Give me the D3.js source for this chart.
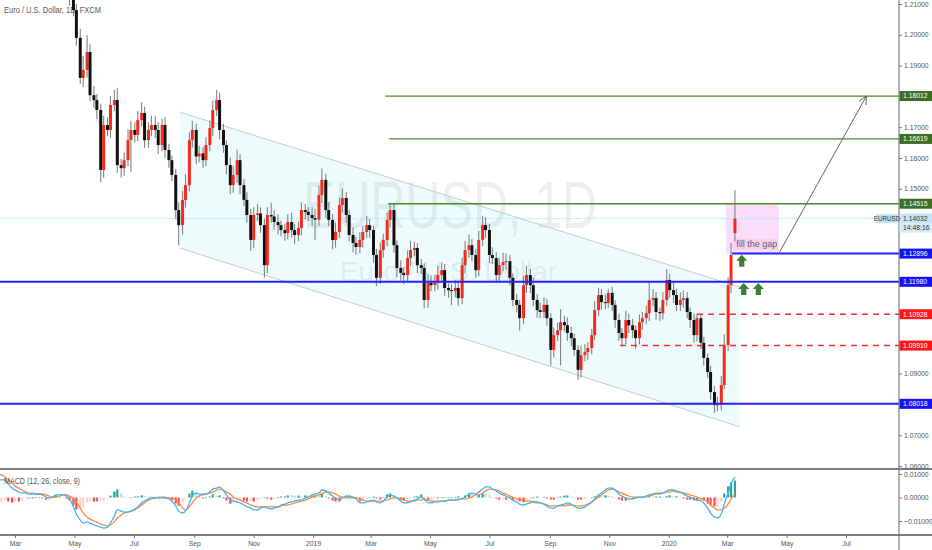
<!DOCTYPE html>
<html>
<head>
<meta charset="utf-8">
<script src="https://cdnjs.cloudflare.com/ajax/libs/d3/7.8.5/d3.min.js"></script>
<style>
  body { margin: 0; background: #fff; overflow: hidden; }
  svg { display: block; }
  text { font-family: "Liberation Sans", Arial, sans-serif; }
</style>
</head>
<body>
<svg id="chart" width="932" height="550"></svg>
<script>
// EURUSD daily, drawn as two bars a week (Mon-Wed, Thu-Fri).
const firstMonday = "2018-02-12";
const lastBar = "2020-03-09";

// closing prices, one per bar
const closes = [
  // Feb 12 - Apr 12 2018 (above the visible range)
  1.2290,1.2505,1.2405,1.2330,1.2235,1.2265,1.2405,1.2310,1.2390,1.2305,1.2340,1.2300,1.2450,1.2320,1.2280,1.2240,1.2355,1.2330,
  1.2372,1.2345, 1.2210,1.2120, 1.2080,1.1990, 1.1860,1.1886, 1.1944,1.1804, 1.1788,1.1756, 1.1561,1.1707, 1.1691,1.1772, 1.1788,1.1577, 1.1567,1.1593,
  1.1658,1.1691, 1.1675,1.1723, 1.1746,1.1658, 1.1691,1.1707, 1.1691,1.1642, 1.1707,1.1626, 1.1593,1.1545, 1.1431,1.1382, 1.1464,1.1512, 1.1658,1.1691,
  1.1605,1.1615, 1.1593,1.1642, 1.1697,1.1756, 1.1788,1.1691, 1.1642,1.1577, 1.1512,1.1545, 1.1593,1.1512, 1.1464,1.1415, 1.1334,1.1415, 1.1420,1.1382,
  1.1252,1.1415, 1.1410,1.1392, 1.1382,1.1366, 1.1356,1.1392, 1.1366,1.1350, 1.1373,1.1431, 1.1425,1.1415, 1.1405,1.1400, 1.1480,1.1529, 1.1431,1.1399,
  1.1334,1.1360, 1.1447,1.1470, 1.1415,1.1350, 1.1324,1.1311, 1.1334,1.1360, 1.1382,1.1366, 1.1285,1.1211, 1.1301,1.1334, 1.1399,1.1431, 1.1317,1.1243,
  1.1227,1.1220, 1.1275,1.1301, 1.1308,1.1252, 1.1243,1.1139, 1.1194,1.1187, 1.1197,1.1220, 1.1236,1.1178, 1.1171,1.1168, 1.1178,1.1145, 1.1252,1.1301,
  1.1317,1.1285, 1.1236,1.1334, 1.1382,1.1366, 1.1285,1.1275, 1.1220,1.1252, 1.1262,1.1265, 1.1211,1.1139, 1.1123,1.1080, 1.1187,1.1220, 1.1187,1.1139,
  1.1106,1.1100, 1.1123,1.1080, 1.0977,1.1025, 1.1041,1.1067, 1.1057,1.1032, 1.1015,1.0977, 1.0912,1.0960, 1.0970,1.0983, 1.1025,1.1106, 1.1155,1.1132,
  1.1129,1.1162, 1.1123,1.1074, 1.1032,1.1015, 1.1074,1.1057, 1.1041,1.1015, 1.1067,1.1080, 1.1096,1.1139, 1.1145,1.1100, 1.1096,1.1139, 1.1204,1.1171,
  1.1155,1.1123, 1.1139,1.1145, 1.1100,1.1074, 1.1025,1.1080, 1.1000,1.0951, 1.0905,1.0840, 1.0798,1.0800, 1.0863,1.0993, 1.1187,1.1285, 1.1403
];
const firstOpen = 1.2330;
const gapOpens = { "2020-03-09": 1.1356 };

// wick lengths above / below the body, in pips
const wickUp = [
  40,45,35,30,30,35,40,30,35,30,30,35,40,30,30,25,35,30,
  30,25, 20,25, 25,20, 30,45, 55,25, 30,20, 20,30, 25,30, 33,40, 20,25,
  35,30, 25,30, 35,20, 25,30, 30,25, 20,25, 20,15, 20,25, 30,35, 25,30,
  20,25, 20,25, 25,30, 33,25, 20,15, 25,30, 35,20, 20,25, 20,25, 30,20,
  20,25, 40,20, 25,15, 20,25, 30,20, 20,25, 20,15, 25,30, 30,38, 20,25,
  20,30, 25,30, 20,15, 25,20, 25,20, 30,20, 15,20, 25,20, 25,23, 20,15,
  25,20, 25,30, 20,15, 20,15, 30,25, 25,30, 25,20, 15,20, 25,20, 25,30,
  35,20, 20,30, 30,25, 20,25, 20,25, 30,25, 20,15, 20,15, 30,30, 20,25,
  20,25, 25,20, 15,25, 25,42, 20,25, 20,15, 15,30, 25,20, 20,30, 24,20,
  25,13, 20,15, 20,15, 30,20, 20,15, 25,20, 25,61, 30,20, 15,25, 35,20,
  25,20, 25,25, 20,15, 20,16, 15,20, 15,20, 20,25, 30,35, 26,40, 92
];
const wickDown = [
  30,35,40,30,35,30,25,35,30,30,35,30,25,35,30,30,25,30,
  25,30, 20,25, 20,25, 20,30, 25,20, 25,30, 39,25, 20,25, 20,25, 30,25,
  20,103, 25,20, 20,25, 25,20, 25,30, 20,25, 25,20, 30,65, 30,25, 20,25,
  25,20, 25,20, 20,25, 20,30, 25,30, 30,25, 25,30, 20,25, 35,25, 20,25,
  41,25, 20,25, 30,20, 25,20, 25,30, 20,25, 25,20, 25,66, 20,25, 25,20,
  30,25, 20,25, 25,20, 30,25, 20,25, 20,25, 25,27, 20,25, 20,25, 25,30,
  25,30, 20,25, 20,25, 20,27, 25,20, 20,25, 20,25, 25,45, 20,25, 20,25,
  25,20, 25,20, 20,25, 25,20, 25,20, 20,25, 25,20, 25,40, 20,25, 25,20,
  25,20, 20,25, 51,25, 20,114, 20,25, 25,20, 33,25, 20,25, 20,15, 20,25,
  20,15, 20,25, 25,26, 20,25, 25,34, 20,25, 20,25, 20,25, 25,20, 20,25,
  25,20, 20,25, 20,25, 25,20, 20,25, 20,25, 25,20, 20,15, 20,25, 26
];

// MACD (12, 26, close, 9) line and signal, in units of 0.0001
const macdLine = [
  75,75,75,58,40,32,23,19,19,15,15,15,15,11,2,-2,2,11,
  11,11, 6,-6, -40,-70, -96,-109, -104,-109, -117,-121, -126,-130, -126,-109, -79,-53, -58,-62,
  -62,-58, -49,-40, -23,-15, -6,-2, -2,-2, -2,-2, -6,-15, -36,-58, -66,-58, -23,6,
  19,15, 11,15, 23,36, 40,45, 28,11, -11,-15, -19,-23, -32,-40, -45,-53, -53,-45,
  -40,-45, -49,-45, -40,-32, -28,-23, -19,-15, -11,-11, -2,2, 11,15, 19,32, 28,19,
  6,-2, -11,-2, 6,6, 2,-6, -23,-23, -19,-15, -11,-19, -23,-15, 2,11, 6,-2,
  -15,-23, -23,-19, -11,-6, 2,-6, -23,-23, -19,-19, -15,-15, -11,-11, -11,-6, -6,2,
  15,19, 15,23, 36,45, 45,36, 28,19, 11,6, -2,-11, -19,-28, -32,-28, -23,-19,
  -19,-23, -28,-36, -45,-45, -36,-32, -28,-23, -28,-36, -45,-45, -40,-32, -19,-6, 11,19,
  32,40, 40,32, 15,6, -2,-6, -6,-2, 2,2, 6,11, 15,19, 19,19, 28,32,
  32,28, 23,15, 6,2, -6,-11, -15,-23, -45,-66, -83,-87, -70,-28, 19,58, 87
];
const signalLine = [
  100,96,87,75,62,49,40,32,23,19,19,15,15,15,11,6,2,2,
  6,11, 11,6, -6,-19, -45,-66, -83,-92, -100,-104, -113,-117, -121,-117, -104,-87, -75,-66,
  -62,-58, -53,-45, -32,-23, -11,-6, -2,2, 2,2, -2,-2, -11,-23, -45,-53, -40,-23,
  -2,6, 15,15, 19,23, 32,36, 32,23, 15,2, -6,-11, -19,-23, -32,-36, -40,-40,
  -40,-40, -40,-40, -40,-36, -32,-32, -28,-23, -19,-15, -11,-6, 2,6, 11,15, 23,23,
  19,15, 6,2, -2,-2, -2,-2, -6,-11, -15,-15, -15,-15, -15,-15, -11,-6, -2,-2,
  -6,-11, -15,-15, -15,-11, -11,-6, -11,-15, -15,-15, -15,-15, -11,-11, -11,-11, -6,-6,
  -2,2, 11,11, 19,28, 36,36, 32,28, 19,15, 6,2, -6,-11, -11,-15, -15,-19,
  -23,-23, -28,-32, -36,-36, -36,-36, -36,-32, -32,-36, -36,-36, -32,-28, -19,-11, 2,11,
  23,32, 36,32, 23,19, 11,6, 2,2, 2,2, 6,6, 11,15, 15,19, 23,23,
  28,23, 23,19, 15,11, 6,2, -6,-11, -19,-32, -45,-53, -53,-45, -28,-6, 15
];

// horizontal levels drawn on the chart
const levelPrices = [1.18012, 1.16619, 1.14515, 1.12896, 1.11980, 1.10928, 1.09910, 1.08018];
const levelStarts = ["2019-03-16", "2019-03-20", "2019-03-19", "2020-03-06", null, "2020-01-30", "2019-11-12", null];
const levelKinds  = ["green", "green", "green", "blue", "blue", "red", "red", "blue"];

const lastPrice = 1.14032;
const symbol = "EURUSD";
const countdown = "14:48:16";

// falling channel (left and right edges)
const channelDates = ["2018-08-17", "2020-03-14"];
const channelUpper = [1.1749, 1.1181];
const channelLower = [1.1308, 1.0727];

// "fill the gap" zone and projection arrow
const gapDates = ["2020-02-29", "2020-04-23"];
const gapPrices = [1.14515, 1.12896];
const gapNote = "fill the gap";
const projDates = ["2020-04-23", "2020-07-22"];
const projPrices = [1.12896, 1.18012];

// green up-arrow markers
const markerDates = ["2020-03-16", "2020-03-18", "2020-04-02"];
const markerPrices = [1.1266, 1.1175, 1.1175];

const priceTicks = [1.06, 1.07, 1.08, 1.09, 1.10, 1.11, 1.12, 1.13, 1.14, 1.15, 1.16, 1.17, 1.18, 1.19, 1.20, 1.21];
const macdTicks = [-0.01, 0, 0.01];
const timeTicks = ["2018-03-01","2018-05-01","2018-07-01","2018-09-01","2018-11-01","2019-01-01","2019-03-01",
                   "2019-05-01","2019-07-01","2019-09-01","2019-11-01","2020-01-01","2020-03-01","2020-05-01","2020-07-01"];

const title = "Euro / U.S. Dollar, 1D, FXCM";
const macdTitle = "MACD (12, 26, close, 9)";
const watermark = "EURUSD, 1D";
const watermarkSub = "Euro / U.S. Dollar";

// ---------------------------------------------------------------------------
const parse = d3.timeParse("%Y-%m-%d");
const fmtKey = d3.timeFormat("%Y-%m-%d");

const barDates = [];
const lastDate = parse(lastBar);
d3.timeMonday.range(parse(firstMonday), d3.timeDay.offset(lastDate, 1)).forEach(m => {
  barDates.push(m);
  const th = d3.timeDay.offset(m, 3);
  if (th <= lastDate) barDates.push(th);
});
[closes, wickUp, wickDown, macdLine, signalLine].forEach((a, k) => {
  if (a.length !== barDates.length) throw new Error("array " + k + " has " + a.length + " values, expected " + barDates.length);
});

const bars = barDates.map((d, i) => {
  const key = fmtKey(d);
  const open = gapOpens[key] !== undefined ? gapOpens[key] : (i ? closes[i - 1] : firstOpen);
  const close = closes[i];
  return {
    date: d, open, close,
    high: Math.max(open, close) + wickUp[i] / 10000,
    low: Math.min(open, close) - wickDown[i] / 10000,
    macd: macdLine[i] / 10000,
    signal: signalLine[i] / 10000
  };
});
bars.forEach((b, i) => {
  b.hist = b.macd - b.signal;
  b.prevHist = i ? bars[i - 1].hist : b.hist;
});

const W = 932, axisX = 899, priceBottom = 469, macdBottom = 535;

const x = d3.scaleTime()
  .domain([parse("2018-03-01"), parse("2020-07-01")])
  .range([15, 846]);
const y = d3.scaleLinear().domain([1.06, 1.21]).range([466, 4]);
const ym = d3.scaleLinear().domain([-0.01, 0.01]).range([521, 474]);

const svg = d3.select("#chart");
const defs = svg.append("defs");
defs.append("clipPath").attr("id", "clipPrice")
  .append("rect").attr("x", 0).attr("y", 0).attr("width", axisX).attr("height", priceBottom);
defs.append("clipPath").attr("id", "clipMacd")
  .append("rect").attr("x", 0).attr("y", priceBottom + 1).attr("width", axisX).attr("height", macdBottom - priceBottom - 1);

const price = svg.append("g").attr("clip-path", "url(#clipPrice)");

// watermark
price.append("text")
  .attr("x", 303).attr("y", 228)
  .attr("font-family", "DejaVu Sans, sans-serif")
  .attr("font-size", 66)
  .attr("textLength", 294).attr("lengthAdjust", "spacingAndGlyphs")
  .attr("fill", "rgba(120,125,135,0.13)")
  .text(watermark);
price.append("text")
  .attr("x", 340).attr("y", 281)
  .attr("font-family", "DejaVu Sans, sans-serif")
  .attr("font-size", 27)
  .attr("textLength", 217).attr("lengthAdjust", "spacingAndGlyphs")
  .attr("fill", "rgba(120,125,135,0.13)")
  .text(watermarkSub);

price.append("text")
  .attr("x", 4).attr("y", 13)
  .attr("font-size", 8.5)
  .attr("textLength", 97).attr("lengthAdjust", "spacingAndGlyphs")
  .attr("fill", "#555")
  .text(title);

// channel
const cd = channelDates.map(parse);
price.append("path")
  .attr("d", d3.line()([
    [x(cd[0]), y(channelUpper[0])], [x(cd[1]), y(channelUpper[1])],
    [x(cd[1]), y(channelLower[1])], [x(cd[0]), y(channelLower[0])]
  ]) + "Z")
  .attr("fill", "rgba(0,200,225,0.07)");
[channelUpper, channelLower].forEach(arr => {
  price.append("line")
    .attr("x1", x(cd[0])).attr("y1", y(arr[0]))
    .attr("x2", x(cd[1])).attr("y2", y(arr[1]))
    .attr("stroke", "#c8cbcc").attr("stroke-width", 1);
});

// gap zone
const gd = gapDates.map(parse);
price.append("rect")
  .attr("x", x(gd[0])).attr("y", y(gapPrices[0]))
  .attr("width", x(gd[1]) - x(gd[0]))
  .attr("height", y(gapPrices[1]) - y(gapPrices[0]))
  .attr("fill", "rgba(236,120,236,0.25)");
price.append("rect")
  .attr("x", x(gd[0]) + 7).attr("y", y(gapPrices[1]) - 15)
  .attr("width", x(gd[1]) - x(gd[0]) - 8).attr("height", 11)
  .attr("fill", "rgba(250,200,215,0.6)");
price.append("text")
  .attr("x", x(gd[0]) + 10).attr("y", y(gapPrices[1]) - 6.5)
  .attr("font-size", 9).attr("fill", "#5a5f8c")
  .text(gapNote);

// last price line
price.append("line")
  .attr("x1", 0).attr("x2", axisX)
  .attr("y1", y(lastPrice)).attr("y2", y(lastPrice))
  .attr("stroke", "#a9dcf2").attr("stroke-width", 1).attr("stroke-dasharray", "1,1");

// candles
const upColor = "#f42a1c", downColor = "#111111";
const candle = price.append("g").selectAll("g").data(bars).join("g");
candle.append("line")
  .attr("x1", d => x(d.date)).attr("x2", d => x(d.date))
  .attr("y1", d => y(d.high)).attr("y2", d => y(d.low))
  .attr("stroke", "#838383").attr("stroke-width", 1.1);
candle.append("rect")
  .attr("x", d => x(d.date) - 1.5)
  .attr("width", 3)
  .attr("y", d => y(Math.max(d.open, d.close)))
  .attr("height", d => Math.max(1, Math.abs(y(d.open) - y(d.close))))
  .attr("fill", d => d.close >= d.open ? upColor : downColor);

// horizontal levels
const levelStyle = {
  green: { stroke: "#4a8a2c", width: 1.3, dash: null, label: "#3d6e22" },
  blue:  { stroke: "#2222ff", width: 2, dash: null, label: "#1414f5" },
  red:   { stroke: "#ff2a2a", width: 1.6, dash: "6,5", label: "#ff1818" }
};
levelPrices.forEach((p, i) => {
  const s = levelStyle[levelKinds[i]];
  price.append("line")
    .attr("x1", levelStarts[i] ? x(parse(levelStarts[i])) : 0)
    .attr("x2", axisX)
    .attr("y1", y(p)).attr("y2", y(p))
    .attr("stroke", s.stroke).attr("stroke-width", s.width)
    .attr("stroke-dasharray", s.dash);
});

// projection arrow
const pd = projDates.map(parse);
const p0 = [x(pd[0]), y(projPrices[0])], p1 = [x(pd[1]), y(projPrices[1])];
price.append("line")
  .attr("x1", p0[0]).attr("y1", p0[1]).attr("x2", p1[0]).attr("y2", p1[1])
  .attr("stroke", "#666").attr("stroke-width", 1);
const ang = Math.atan2(p1[1] - p0[1], p1[0] - p0[0]);
[-0.45, 0.45].forEach(da => {
  price.append("line")
    .attr("x1", p1[0]).attr("y1", p1[1])
    .attr("x2", p1[0] - 9 * Math.cos(ang + da)).attr("y2", p1[1] - 9 * Math.sin(ang + da))
    .attr("stroke", "#666").attr("stroke-width", 1);
});

// green markers
const arrowShape = [[0,-6],[5.5,0],[2.6,0],[2.6,6],[-2.6,6],[-2.6,0],[-5.5,0]];
markerDates.forEach((d, i) => {
  const cx = x(parse(d)), cy = y(markerPrices[i]);
  price.append("path")
    .attr("d", d3.line()(arrowShape.map(q => [cx + q[0], cy + q[1]])) + "Z")
    .attr("fill", "#3f7d35");
});

// MACD panel
const macd = svg.append("g").attr("clip-path", "url(#clipMacd)");
const histColor = d => d.hist >= 0
  ? (d.hist >= d.prevHist ? "#26a69a" : "#b2dfdb")
  : (d.hist <= d.prevHist ? "#ef5350" : "#ffcdd2");
macd.append("g").selectAll("rect").data(bars).join("rect")
  .attr("x", d => x(d.date) - 1.1)
  .attr("width", 2.2)
  .attr("y", d => Math.min(ym(d.hist), ym(0)))
  .attr("height", d => Math.max(0.6, Math.abs(ym(d.hist) - ym(0))))
  .attr("fill", histColor);
macd.append("path").datum(bars)
  .attr("d", d3.line().x(d => x(d.date)).y(d => ym(d.signal)).curve(d3.curveMonotoneX))
  .attr("fill", "none").attr("stroke", "#ff8a3d").attr("stroke-width", 1.3);
macd.append("path").datum(bars)
  .attr("d", d3.line().x(d => x(d.date)).y(d => ym(d.macd)).curve(d3.curveMonotoneX))
  .attr("fill", "none").attr("stroke", "#3fb4f2").attr("stroke-width", 1.3);
svg.append("text")
  .attr("x", 4).attr("y", 484)
  .attr("font-size", 8.5)
  .attr("textLength", 76).attr("lengthAdjust", "spacingAndGlyphs")
  .attr("fill", "#555")
  .text(macdTitle);

// axes (tick labels hidden behind a level label are left out, as on the reference)
function styleAxis(g) {
  g.select(".domain").remove();
  g.selectAll("line").attr("stroke", "#777");
  g.selectAll("text").attr("font-family", "Liberation Sans, Arial, sans-serif")
    .attr("font-size", 6.8).attr("fill", "#555");
}
const labelled = levelPrices.concat([lastPrice]);
const shownTicks = priceTicks.filter(t => !labelled.some(p => Math.abs(y(p) - y(t)) < 9));
svg.append("g").attr("transform", `translate(${axisX},0)`)
  .call(d3.axisRight(y).tickValues(shownTicks).tickFormat(d3.format(".5f")).tickSize(3).tickPadding(2))
  .call(styleAxis);
svg.append("g").attr("transform", `translate(${axisX},0)`)
  .call(d3.axisRight(ym).tickValues(macdTicks).tickFormat(d3.format(".5f")).tickSize(3).tickPadding(2))
  .call(styleAxis);
const monthFmt = d3.timeFormat("%b"), yearFmt = d3.timeFormat("%Y");
svg.append("g").attr("transform", `translate(0,${macdBottom})`)
  .call(d3.axisBottom(x).tickValues(timeTicks.map(parse))
    .tickFormat(d => d.getMonth() === 0 ? yearFmt(d) : monthFmt(d)).tickSize(3).tickPadding(3))
  .call(styleAxis);

// panel borders
svg.append("line").attr("x1", 0).attr("x2", W).attr("y1", priceBottom).attr("y2", priceBottom)
  .attr("stroke", "#555").attr("stroke-width", 1.3);
svg.append("line").attr("x1", 0).attr("x2", W).attr("y1", macdBottom).attr("y2", macdBottom)
  .attr("stroke", "#555").attr("stroke-width", 1.3);
svg.append("line").attr("x1", axisX).attr("x2", axisX).attr("y1", 0).attr("y2", 550)
  .attr("stroke", "#666").attr("stroke-width", 1);

// price labels on the axis
function axisLabel(p, bg, fg, txt, dy) {
  const yy = y(p) + (dy || 0);
  svg.append("rect").attr("x", axisX + 0.5).attr("y", yy - 5).attr("width", W - axisX).attr("height", 10).attr("fill", bg);
  svg.append("text").attr("x", axisX + 4).attr("y", yy + 2.4)
    .attr("font-size", 6.8).attr("fill", fg).text(txt);
}
levelPrices.forEach((p, i) => axisLabel(p, levelStyle[levelKinds[i]].label, "#fff", d3.format(".5f")(p)));
axisLabel(lastPrice, "#c3e5f7", "#333", d3.format(".5f")(lastPrice));
axisLabel(lastPrice, "#d3ecf9", "#333", countdown, 9);
svg.append("rect").attr("x", 876).attr("y", y(lastPrice) - 4.5).attr("width", 22).attr("height", 9).attr("fill", "#c3e5f7");
svg.append("text").attr("x", 887).attr("y", y(lastPrice) + 2.3).attr("text-anchor", "middle")
  .attr("font-size", 6.3).attr("fill", "#333").text(symbol);
</script>
</body>
</html>
